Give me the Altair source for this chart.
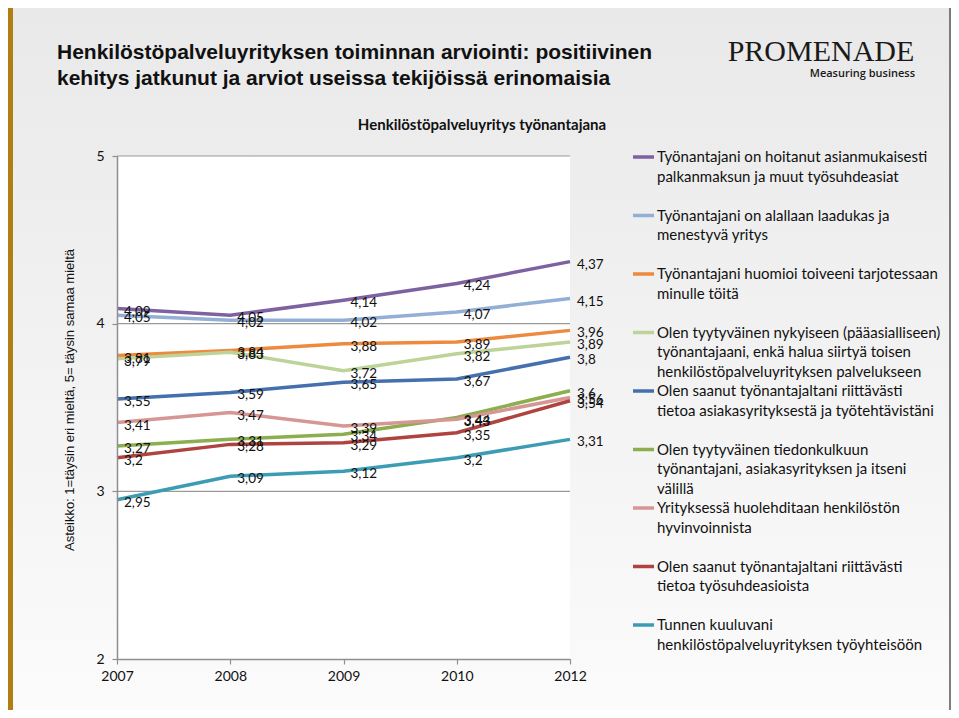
import altair as alt
import pandas as pd

# ---------------- data ----------------
years = ["2007", "2008", "2009", "2010", "2012"]

series = [
    "Työnantajani on hoitanut asianmukaisesti palkanmaksun ja muut työsuhdeasiat",
    "Työnantajani on alallaan laadukas ja menestyvä yritys",
    "Työnantajani huomioi toiveeni tarjotessaan minulle töitä",
    "Olen tyytyväinen nykyiseen (pääasialliseen) työnantajaani, enkä halua siirtyä toisen henkilöstöpalveluyrityksen palvelukseen",
    "Olen saanut työnantajaltani riittävästi tietoa asiakasyrityksestä ja työtehtävistäni",
    "Olen tyytyväinen tiedonkulkuun työnantajani, asiakasyrityksen ja itseni välillä",
    "Yrityksessä huolehditaan henkilöstön hyvinvoinnista",
    "Olen saanut työnantajaltani riittävästi tietoa työsuhdeasioista",
    "Tunnen kuuluvani henkilöstöpalveluyrityksen työyhteisöön",
]

palkanmaksu = [4.09, 4.05, 4.14, 4.24, 4.37]
laadukas = [4.05, 4.02, 4.02, 4.07, 4.15]
toiveet = [3.81, 3.84, 3.88, 3.89, 3.96]
tyytyvainen = [3.79, 3.83, 3.72, 3.82, 3.89]
tieto_asiakas = [3.55, 3.59, 3.65, 3.67, 3.80]
tiedonkulku = [3.27, 3.31, 3.34, 3.44, 3.60]
hyvinvointi = [3.41, 3.47, 3.39, 3.43, 3.56]
tieto_tyosuhde = [3.20, 3.28, 3.29, 3.35, 3.54]
kuuluminen = [2.95, 3.09, 3.12, 3.20, 3.31]

all_values = [palkanmaksu, laadukas, toiveet, tyytyvainen, tieto_asiakas,
              tiedonkulku, hyvinvointi, tieto_tyosuhde, kuuluminen]

legend_lines = [
    ["Työnantajani on hoitanut asianmukaisesti", "palkanmaksun ja muut työsuhdeasiat"],
    ["Työnantajani on alallaan laadukas ja", "menestyvä yritys"],
    ["Työnantajani huomioi toiveeni tarjotessaan", "minulle töitä"],
    ["Olen tyytyväinen nykyiseen (pääasialliseen)", "työnantajaani, enkä halua siirtyä toisen",
     "henkilöstöpalveluyrityksen palvelukseen"],
    ["Olen saanut työnantajaltani riittävästi", "tietoa asiakasyrityksestä ja työtehtävistäni"],
    ["Olen tyytyväinen tiedonkulkuun", "työnantajani, asiakasyrityksen ja itseni", "välillä"],
    ["Yrityksessä huolehditaan henkilöstön", "hyvinvoinnista"],
    ["Olen saanut työnantajaltani riittävästi", "tietoa työsuhdeasioista"],
    ["Tunnen kuuluvani", "henkilöstöpalveluyrityksen työyhteisöön"],
]

y_ticks = [2, 3, 4, 5]
grid_values = [3, 4, 5]

title_lines = ["Henkilöstöpalveluyrityksen toiminnan arviointi: positiivinen",
               "kehitys jatkunut ja arviot useissa tekijöissä erinomaisia"]
subtitle = "Henkilöstöpalveluyritys työnantajana"
y_title = "Asteikko: 1=täysin eri mieltä, 5= täysin samaa mieltä"

colors = ["#7D61A0", "#93AFD6", "#EC8A3F", "#BDD398", "#4570AD",
          "#8BAE4F", "#D69694", "#AE433F", "#3C9CB3"]

# ---------------- layout ----------------
W, H = 453, 503
PAD_L, PAD_T = 109, 148
TOTAL_W, TOTAL_H = 943, 702

rows = []
for si, (name, vals) in enumerate(zip(series, all_values)):
    for yr, v in zip(years, vals):
        rows.append({"series": name, "idx": si, "year": yr, "value": v,
                     "label": (f"{v:g}").replace(".", ",")})
df = pd.DataFrame(rows)

leg_rows = []
for si, lines in enumerate(legend_lines):
    for k, t in enumerate(lines):
        leg_rows.append({"series": series[si], "idx": si, "k": k, "text": t})
leg_df = pd.DataFrame(leg_rows)
leg_sym = pd.DataFrame({"series": series, "idx": list(range(len(series)))})

dummy = pd.DataFrame({"a": [0]})
grid_df = pd.DataFrame({"g": grid_values})

color_scale = alt.Scale(domain=series, range=colors)
x_scale = alt.Scale(type="point", padding=0, domain=years)
y_scale = alt.Scale(domain=[2, 5], nice=False, zero=False)

axis_style = dict(domainColor="#8f8f8f", tickColor="#8f8f8f", tickSize=5,
                  labelFont="Lato", labelFontSize=14, labelColor="#111111",
                  grid=False, title=None, zindex=1, domainWidth=1.5, tickWidth=1.2)

bg = alt.Chart(dummy).mark_rect(
    fill=alt.Gradient(gradient="linear",
                      stops=[alt.GradientStop(color="#e9e9e9", offset=0),
                             alt.GradientStop(color="#fbfbfb", offset=1)],
                      x1=0, x2=0, y1=0, y2=1)
).encode(x=alt.value(-PAD_L), x2=alt.value(TOTAL_W - PAD_L),
         y=alt.value(-PAD_T), y2=alt.value(TOTAL_H - PAD_T))

gold = alt.Chart(dummy).mark_rect(color="#B27D12").encode(
    x=alt.value(-PAD_L), x2=alt.value(-PAD_L + 5),
    y=alt.value(-PAD_T), y2=alt.value(TOTAL_H - PAD_T))

right_border = alt.Chart(dummy).mark_rule(color="#555555", strokeWidth=1.5).encode(
    x=alt.value(TOTAL_W - PAD_L - 1), y=alt.value(-PAD_T), y2=alt.value(TOTAL_H - PAD_T))

plot_bg = alt.Chart(dummy).mark_rect(color="white").encode(
    x=alt.value(0), x2=alt.value(W), y=alt.value(0), y2=alt.value(H))

grid = alt.Chart(grid_df).mark_rule(color="#9a9a9a", strokeWidth=1.2).encode(
    y=alt.Y("g:Q", scale=y_scale), x=alt.value(0), x2=alt.value(W))

lines = alt.Chart(df).mark_line(strokeWidth=3.5).encode(
    x=alt.X("year:O", scale=x_scale,
            axis=alt.Axis(labelAngle=0, labelPadding=5, **axis_style)),
    y=alt.Y("value:Q", scale=y_scale,
            axis=alt.Axis(values=y_ticks, format="d", labelPadding=8, **axis_style)),
    color=alt.Color("series:N", scale=color_scale, legend=None),
    order=alt.Order("year:O"),
)

labels = alt.Chart(df).mark_text(
    align="left", baseline="middle", dx=7, dy=3,
    font="Lato", fontSize=13.5, color="#111111"
).encode(x=alt.X("year:O", scale=x_scale), y=alt.Y("value:Q", scale=y_scale),
         text="label:N")

leg_seg = alt.Chart(leg_sym).transform_calculate(
    ly="1 + datum.idx * 58.5"
).mark_rule(strokeWidth=3.5).encode(
    x=alt.value(516), x2=alt.value(537),
    y=alt.Y("ly:Q", scale=None),
    color=alt.Color("series:N", scale=color_scale, legend=None))

leg_text = alt.Chart(leg_df).transform_calculate(
    ly="1 + datum.idx * 58.5 + datum.k * 19.5"
).mark_text(align="left", baseline="middle", font="Lato", fontSize=15,
            color="#111111").encode(
    x=alt.value(540), y=alt.Y("ly:Q", scale=None), text="text:N")

title1 = alt.Chart(dummy).mark_text(
    text=title_lines[0], align="left", baseline="middle",
    font="Liberation Sans", fontSize=21, fontWeight="bold", color="#111111"
).encode(x=alt.value(-60), y=alt.value(-103))
title2 = alt.Chart(dummy).mark_text(
    text=title_lines[1], align="left", baseline="middle",
    font="Liberation Sans", fontSize=21, fontWeight="bold", color="#111111"
).encode(x=alt.value(-60), y=alt.value(-77))

sub = alt.Chart(dummy).mark_text(
    text=subtitle, align="center", baseline="middle",
    font="Lato", fontSize=15, fontWeight="bold", color="#111111"
).encode(x=alt.value(365), y=alt.value(-31))

ytitle = alt.Chart(dummy).mark_text(
    text=y_title, align="center", baseline="middle", angle=270,
    font="Liberation Sans", fontSize=13, color="#111111"
).encode(x=alt.value(-47), y=alt.value(244))

logo = alt.Chart(dummy).mark_text(
    text="PROMENADE", align="center", baseline="middle",
    font="Liberation Serif", fontSize=30, color="#1a1a1a"
).encode(x=alt.value(704), y=alt.value(-104))
logo_sub = alt.Chart(dummy).mark_text(
    text="Measuring business", align="right", baseline="middle",
    font="Open Sans", fontSize=11, fontWeight=600, color="#1a1a1a"
).encode(x=alt.value(798), y=alt.value(-82))

chart = alt.layer(
    bg, gold, right_border, plot_bg, grid, lines, labels, leg_seg, leg_text,
    title1, title2, sub, ytitle, logo, logo_sub
).properties(
    width=W, height=H,
    autosize=alt.AutoSizeParams(type="none"),
    padding={"left": PAD_L, "top": PAD_T, "right": TOTAL_W - PAD_L - W,
             "bottom": TOTAL_H - PAD_T - H},
).configure_view(stroke=None).configure(background="#efefef")

chart.save("out.html", embed_options={"renderer": "svg", "actions": False})
